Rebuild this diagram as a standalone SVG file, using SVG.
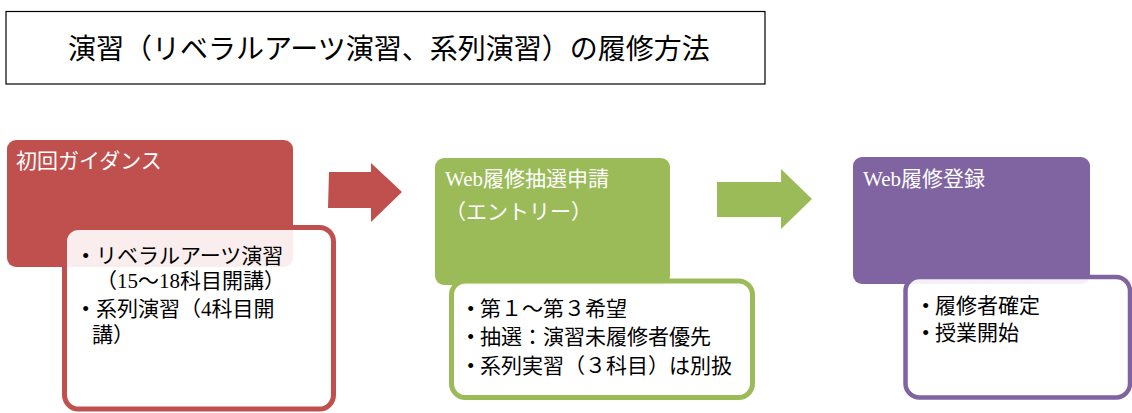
<svg xmlns="http://www.w3.org/2000/svg" width="1132" height="413" viewBox="0 0 1132 413">
<style>
text{font-family:"Liberation Serif","Noto Sans CJK JP",serif;}
.head{font-size:21px;fill:#ffffff;}
.body{font-size:21px;fill:#000000;}
.card{fill:#ffffff;fill-opacity:0.9;stroke-width:5;}
.red{fill:#C0504D;}
.green{fill:#9BBB59;}
.purple{fill:#8064A2;}
</style>
<rect width="1132" height="413" fill="#ffffff"/>
<g id="title">
<rect x="6" y="11.5" width="759" height="72.5" fill="#ffffff" stroke="#000000" stroke-width="1.2"/>
<text x="68" y="59" style="font-size:28px;fill:#000000;">演習（リベラルアーツ演習、系列演習）の履修方法</text>
</g>
<g id="node-guidance">
<rect class="red" x="7" y="140" width="286" height="127" rx="9"/>
<text class="head" x="16" y="168">初回ガイダンス</text>
<rect class="card" x="64.5" y="227.5" width="269" height="181.5" rx="14" stroke="#C0504D"/>
<text class="body" y="263"><tspan x="82">•</tspan><tspan x="96">リベラルアーツ演習</tspan></text>
<text class="body" x="96" y="288">（15～18科目開講）</text>
<text class="body" y="316"><tspan x="82">•</tspan><tspan x="96">系列演習（4科目開</tspan></text>
<text class="body" x="92" y="342">講）</text>
</g>
<g id="node-entry">
<rect class="green" x="435" y="158" width="235" height="127" rx="9"/>
<text class="head" x="445" y="186">Web履修抽選申請</text>
<text class="head" x="445" y="219">（エントリー）</text>
<rect class="card" x="451.5" y="281" width="301" height="116.5" rx="14" stroke="#9BBB59"/>
<text class="body" y="316"><tspan x="467">•</tspan><tspan x="480">第１～第３希望</tspan></text>
<text class="body" y="344"><tspan x="467">•</tspan><tspan x="480">抽選：演習未履修者優先</tspan></text>
<text class="body" y="373"><tspan x="467">•</tspan><tspan x="480">系列実習（３科目）は別扱</tspan></text>
</g>
<g id="node-register">
<rect class="purple" x="853" y="157" width="237" height="127" rx="9"/>
<text class="head" x="863" y="186">Web履修登録</text>
<rect class="card" x="905.5" y="277" width="224.5" height="120.5" rx="14" stroke="#8064A2" style="stroke-width:4.5"/>
<text class="body" y="313"><tspan x="922">•</tspan><tspan x="935">履修者確定</tspan></text>
<text class="body" y="340"><tspan x="922">•</tspan><tspan x="935">授業開始</tspan></text>
</g>
<g id="connectors">
<polygon class="red" points="329,172 371,172 371,163 402,192 371,222 371,208 328,208"/>
<polygon class="green" points="717,182 781,182 781,169 812,199 781,229 781,217 717,217"/>
</g>
</svg>
